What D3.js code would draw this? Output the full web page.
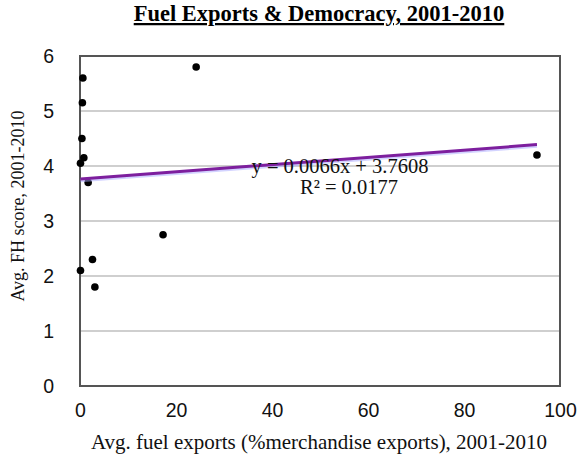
<!DOCTYPE html>
<html>
<head>
<meta charset="utf-8">
<script src="https://cdn.jsdelivr.net/npm/d3@7"></script>
<style>
  html, body { margin: 0; padding: 0; background: #fff; }
  svg { display: block; }
</style>
</head>
<body>
<svg id="chart" width="579" height="459"></svg>
<script>
// Average fuel exports (% of merchandise exports) vs. average Freedom House score, 2001-2010
const fuelExports = [0.6, 0.5, 0.4, 0.8, 0.1, 1.7, 17.3, 2.6, 0.1, 3.1, 24.2, 95.2];
const fhScores    = [5.6, 5.15, 4.5, 4.15, 4.05, 3.7, 2.75, 2.3, 2.1, 1.8, 5.8, 4.2];
const xTicks = [0, 20, 40, 60, 80, 100];
const yTicks = [0, 1, 2, 3, 4, 5, 6];
const slope = 0.0066, intercept = 3.7608, rSquared = 0.0177;

const svg = d3.select("#chart");
const m = { left: 80, right: 19, top: 56, bottom: 73 };
const W = 579, H = 459;
const serif = "'Liberation Serif', 'Times New Roman', serif";
const sans = "'Liberation Sans', Arial, sans-serif";

const x = d3.scaleLinear().domain([0, 100]).range([m.left, W - m.right]);
const y = d3.scaleLinear().domain([0, 6]).range([H - m.bottom, m.top]);

// Title
svg.append("text")
  .attr("x", 319).attr("y", 21)
  .attr("text-anchor", "middle")
  .style("font-family", serif)
  .style("font-size", "22.5px").style("font-weight", "bold")
  .style("text-decoration", "underline")
  .text("Fuel Exports & Democracy, 2001-2010");

// Horizontal gridlines
svg.append("g")
  .selectAll("line")
  .data(yTicks.filter(d => d > 0 && d < 6))
  .join("line")
  .attr("x1", x(0)).attr("x2", x(100))
  .attr("y1", d => y(d)).attr("y2", d => y(d))
  .attr("stroke", "#cfcfcf").attr("stroke-width", 2);

// Plot frame
svg.append("rect")
  .attr("x", x(0)).attr("y", y(6))
  .attr("width", x(100) - x(0)).attr("height", y(0) - y(6))
  .attr("fill", "none").attr("stroke", "#555").attr("stroke-width", 2);

// Axes (labels only)
const yAxis = d3.axisLeft(y).tickValues(yTicks).tickSize(0).tickPadding(26).tickFormat(d3.format("d"));
const gy = svg.append("g").attr("transform", `translate(${x(0)},0)`).call(yAxis);
const xAxis = d3.axisBottom(x).tickValues(xTicks).tickSize(0).tickPadding(17).tickFormat(d3.format("d"));
const gx = svg.append("g").attr("transform", `translate(0,${y(0)})`).call(xAxis);
[gx, gy].forEach(g => {
  g.select(".domain").remove();
  g.selectAll("text")
    .style("font-family", sans)
    .style("font-size", "19.5px").attr("fill", "#111");
});

// Data points
const pts = fuelExports.map((v, i) => ({ x: v, y: fhScores[i] }));
svg.append("g")
  .selectAll("circle")
  .data(pts)
  .join("circle")
  .attr("cx", d => x(d.x)).attr("cy", d => y(d.y))
  .attr("r", 3.8).attr("fill", "#000");

// Linear trendline across the data range
const xMin = d3.min(fuelExports), xMax = d3.max(fuelExports);
const trend = [xMin, xMax].map(v => ({ x: v, y: slope * v + intercept }));
const line = d3.line().x(d => x(d.x)).y(d => y(d.y));
svg.append("path").datum(trend).attr("d", line)
  .attr("fill", "none").attr("stroke", "#a8a8ff").attr("stroke-width", 3.5)
  .attr("opacity", 0.5).attr("transform", "translate(0,1.5)");
svg.append("path").datum(trend).attr("d", line)
  .attr("fill", "none").attr("stroke", "#7d1f9e").attr("stroke-width", 3);

// Trendline equation
const eq = svg.append("g")
  .style("font-family", serif)
  .style("font-size", "20.5px").attr("fill", "#111");
eq.append("text").attr("x", 340).attr("y", 173).attr("text-anchor", "middle")
  .text(`y = ${slope}x + ${intercept}`);
eq.append("text").attr("x", 349).attr("y", 194).attr("text-anchor", "middle")
  .text(`R² = ${rSquared}`);

// Axis titles
svg.append("text")
  .attr("x", 319).attr("y", 449).attr("text-anchor", "middle")
  .style("font-family", serif)
  .style("font-size", "21px").attr("fill", "#111")
  .text("Avg. fuel exports (%merchandise exports), 2001-2010");
svg.append("text")
  .attr("transform", "translate(24,206) rotate(-90)")
  .attr("text-anchor", "middle")
  .style("font-family", serif)
  .style("font-size", "18px").attr("fill", "#111")
  .text("Avg. FH score, 2001-2010");
</script>
</body>
</html>
